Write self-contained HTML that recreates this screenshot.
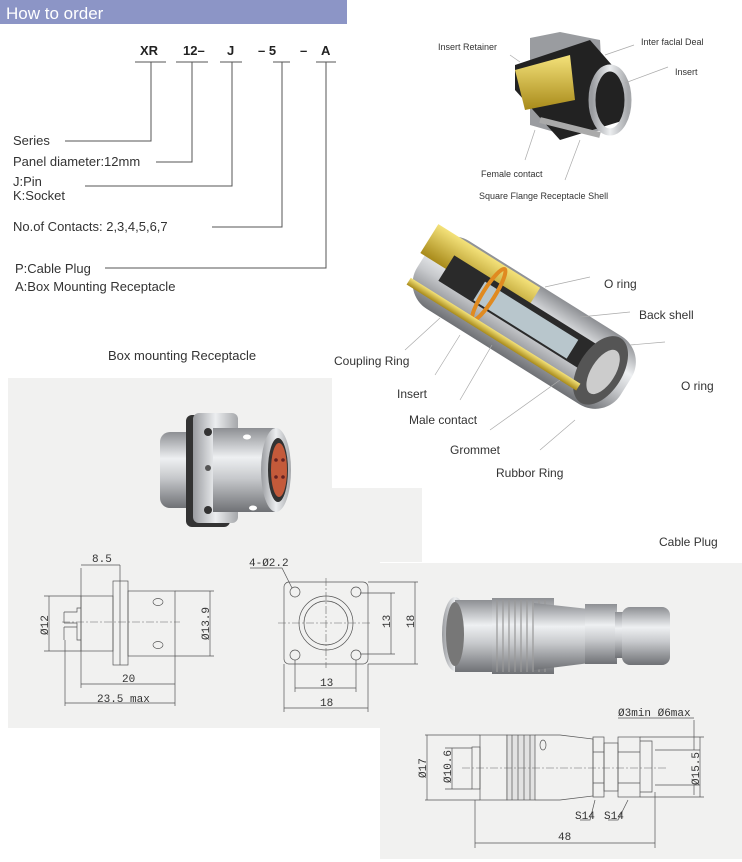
<!DOCTYPE html>
<html><head><meta charset="utf-8"><style>
body{margin:0;background:#fff;width:742px;height:862px;overflow:hidden}
svg{display:block}
text{font-family:"Liberation Sans",sans-serif;fill:#333}
.m{font-family:"Liberation Mono",monospace;font-size:11px;fill:#333}
.d{stroke:#555;stroke-width:.7;fill:none}
.c{stroke:#666;stroke-width:.6;stroke-dasharray:8 2 2 2;fill:none}
.l{stroke:#555;stroke-width:1;fill:none}
.g{stroke:#aaa;stroke-width:.7;fill:none}
</style></head><body>
<svg width="742" height="862" viewBox="0 0 742 862" xmlns="http://www.w3.org/2000/svg">
<defs>
<linearGradient id="met" x1="0" y1="0" x2="0" y2="1"><stop offset="0" stop-color="#8d8f93"/><stop offset=".35" stop-color="#eef0f2"/><stop offset=".6" stop-color="#c7c9cc"/><stop offset="1" stop-color="#6f7175"/></linearGradient>
<linearGradient id="met2" x1="0" y1="0" x2="1" y2="0"><stop offset="0" stop-color="#9a9ca0"/><stop offset=".5" stop-color="#eceef0"/><stop offset="1" stop-color="#a5a7aa"/></linearGradient>
<linearGradient id="gold" x1="0" y1="0" x2="0" y2="1"><stop offset="0" stop-color="#f4e27a"/><stop offset="1" stop-color="#a88a1a"/></linearGradient>
</defs>
<path d="M8 378H332V488H422V562H380V728H8Z" fill="#f1f1f0"/>
<rect x="380" y="563" width="362" height="296" fill="#f1f1f0"/>
<rect x="0" y="0" width="347" height="24" fill="#8c95c6"/>
<text x="6" y="19" font-size="17" style="fill:#fff">How to order</text>
<g font-size="13" font-weight="bold"><text x="140" y="55" style="fill:#222">XR</text><text x="183" y="55" style="fill:#222">12–</text><text x="227" y="55" style="fill:#222">J</text><text x="258" y="55" style="fill:#222">–  5</text><text x="300" y="55" style="fill:#222">–</text><text x="321" y="55" style="fill:#222">A</text></g>
<g class="l"><path d="M135 62H166M176 62H208M220 62H242M273 62H290M316 62H336"/>
<path d="M151 62V141H65M192 62V162H156M232 62V186H85M282 62V227H212M326 62V268H105"/></g>
<g font-size="13"><text x="13" y="145">Series</text><text x="13" y="166">Panel diameter:12mm</text><text x="13" y="186">J:Pin</text><text x="13" y="200">K:Socket</text><text x="13" y="231">No.of Contacts: 2,3,4,5,6,7</text><text x="15" y="273">P:Cable Plug</text><text x="15" y="291">A:Box Mounting Receptacle</text>
<text x="108" y="360">Box mounting Receptacle</text></g>
<g>
<path d="M530 38L560 32L600 40L605 130L565 135L530 125Z" fill="#9a9ca0"/>
<path d="M515 65L590 40L625 80L625 120L560 140L515 90Z" fill="#222"/>
<path d="M515 70L570 55L575 100L525 110Z" fill="url(#gold)"/>
<ellipse cx="610" cy="100" rx="18" ry="32" fill="none" stroke="url(#met2)" stroke-width="7"/>
<path d="M540 120L600 135" stroke="#aaa" stroke-width="6"/>
</g>
<g font-size="9"><text x="438" y="50">Insert Retainer</text><text x="641" y="45">Inter faclal Deal</text><text x="675" y="75">Insert</text><text x="481" y="177">Female contact</text><text x="479" y="199">Square Flange Receptacle Shell</text></g>
<g class="g"><path d="M510 55L520 62M634 45L605 55M668 67L625 83M535 130L525 160M580 140L565 180"/></g>
<g transform="rotate(32 520 320)">
<rect x="405" y="280" width="240" height="80" rx="30" fill="url(#met)"/>
<rect x="400" y="282" width="120" height="34" fill="url(#gold)"/>
<rect x="430" y="300" width="170" height="30" fill="#2a2a2a"/>
<rect x="470" y="306" width="110" height="22" fill="#b8c6cc"/>
<ellipse cx="615" cy="320" rx="22" ry="38" fill="#555"/>
<ellipse cx="618" cy="320" rx="12" ry="25" fill="#ccc"/>
<ellipse cx="480" cy="315" rx="6" ry="30" fill="none" stroke="#e08a20" stroke-width="4"/>
<rect x="405" y="342" width="200" height="8" fill="url(#gold)"/>
</g>
<g font-size="12"><text x="604" y="288">O ring</text><text x="639" y="319">Back shell</text><text x="334" y="365">Coupling Ring</text><text x="397" y="398">Insert</text><text x="409" y="424">Male contact</text><text x="450" y="454">Grommet</text><text x="496" y="477">Rubbor Ring</text><text x="681" y="390">O ring</text><text x="659" y="546">Cable Plug</text></g>
<g class="g"><path d="M590 277L545 287M630 312L580 317M665 342L630 345M440 318L405 350M460 335L435 375M492 345L460 400M560 380L490 430M575 420L540 450"/></g>
<!-- receptacle photo -->
<g>
<rect x="160" y="432" width="40" height="76" rx="10" fill="url(#met)"/>
<rect x="186" y="415" width="44" height="112" rx="6" fill="#333"/>
<rect x="193" y="413" width="45" height="110" rx="6" fill="url(#met2)"/>
<circle cx="208" cy="432" r="4" fill="#333"/><circle cx="208" cy="468" r="3" fill="#555"/><circle cx="208" cy="510" r="4" fill="#333"/>
<rect x="213" y="428" width="62" height="84" fill="url(#met)"/>
<ellipse cx="276" cy="470" rx="15" ry="42" fill="url(#met2)"/>
<ellipse cx="278" cy="470" rx="10" ry="32" fill="#333"/>
<ellipse cx="279" cy="470" rx="8" ry="27" fill="#c45a3a"/>
<circle cx="276" cy="460" r="1.8" fill="#622"/><circle cx="283" cy="460" r="1.8" fill="#622"/><circle cx="276" cy="477" r="1.8" fill="#622"/><circle cx="283" cy="477" r="1.8" fill="#622"/>
<ellipse cx="247" cy="437" rx="4" ry="2.5" fill="#fff"/><ellipse cx="253" cy="508" rx="4" ry="2.5" fill="#fff"/>
</g>
<g class="d">
<rect x="81" y="596" width="32" height="55"/>
<path d="M64 612H77V608H81M64 623H77V627M64 627H77V640H81M64 612V623M64 627V640"/>
<rect x="113" y="581" width="15" height="84"/><path d="M120 581V665"/>
<rect x="128" y="591" width="47" height="65"/>
<ellipse cx="158" cy="602" rx="5" ry="3.5"/><ellipse cx="158" cy="645" rx="5" ry="3.5"/>
<path d="M81 568V688M120 565V581M65 640V706M175 656V706M81 684H175M65 703H175M81 565H120M44 596H81M44 651H81M49 596V651M175 591H214M175 656H214M210 591V656"/>
</g>
<path class="c" d="M62 622H180"/>
<text class="m" x="92" y="562">8.5</text><text class="m" x="122" y="682">20</text><text class="m" x="97" y="702">23.5 max</text>
<text class="m" transform="translate(48 635) rotate(-90)">Ø12</text><text class="m" transform="translate(209 640) rotate(-90)">Ø13.9</text>
<g class="d">
<rect x="284" y="582" width="84" height="82" rx="5"/>
<circle cx="326" cy="623" r="27"/><circle cx="326" cy="623" r="22"/>
<circle cx="295" cy="592" r="5"/><circle cx="356" cy="592" r="5"/><circle cx="295" cy="655" r="5"/><circle cx="356" cy="655" r="5"/>
<path d="M360 593H395M360 654H395M391 593V654M368 582H418M368 664H418M415 582V664M295 660V692M356 660V692M295 688H356M284 664V712M368 664V712M284 708H368M250 568H282L292 588"/>
</g>
<path class="c" d="M278 623H370M326 578V668"/>
<text class="m" x="249" y="566">4-Ø2.2</text><text class="m" x="320" y="686">13</text><text class="m" x="320" y="706">18</text>
<text class="m" transform="translate(390 628) rotate(-90)">13</text><text class="m" transform="translate(414 628) rotate(-90)">18</text>
<g>
<ellipse cx="455" cy="634" rx="13" ry="37" fill="url(#met2)"/>
<rect x="455" y="600" width="50" height="72" fill="url(#met)"/>
<ellipse cx="455" cy="634" rx="9" ry="32" fill="#777"/>
<rect x="492" y="598" width="62" height="76" fill="url(#met)"/>
<g stroke="#999" stroke-width="1.2"><path d="M497 600V672M503 600V672M509 600V672M515 600V672M521 600V672M527 600V672M533 600V672M539 600V672M545 600V672"/></g>
<path d="M534 603L598 610V662L534 670Z" fill="url(#met)"/>
<rect x="585" y="604" width="32" height="60" fill="url(#met)"/>
<rect x="615" y="612" width="16" height="46" fill="url(#met)"/>
<rect x="622" y="607" width="48" height="58" rx="8" fill="url(#met)"/>
</g>
<g class="d">
<rect x="472" y="747" width="8" height="42"/>
<rect x="480" y="735" width="27" height="65"/>
<rect x="507" y="735" width="28" height="65" fill="#e2e2e2"/>
<path d="M512 735V800M518 735V800M524 735V800M530 735V800"/>
<ellipse cx="543" cy="745" rx="3" ry="5"/>
<path d="M535 735H560L593 739V796L560 800H535"/>
<rect x="593" y="737" width="11" height="60"/><path d="M593 752H604M593 783H604"/>
<rect x="604" y="743" width="14" height="48"/>
<rect x="618" y="737" width="22" height="60"/><path d="M618 752H640M618 783H640"/>
<path d="M640 741H652V792H640"/>
<path d="M425 735H480M425 800H480M427 735V800M445 748H472M445 789H472M452 748V789M640 737H704M640 797H704M700 737V797M655 750H700M655 785H700M694 720V750M694 785V795M618 718H694M655 792V848M475 800V848M475 843H655M595 800L590 820H580M628 800L618 820H608"/>
</g>
<path class="c" d="M462 768H668"/>
<text class="m" x="618" y="716">Ø3min Ø6max</text><text class="m" x="558" y="840">48</text><text class="m" x="575" y="819">S14</text><text class="m" x="604" y="819">S14</text>
<text class="m" transform="translate(426 778) rotate(-90)">Ø17</text><text class="m" transform="translate(451 783) rotate(-90)">Ø10.6</text><text class="m" transform="translate(699 785) rotate(-90)">Ø15.5</text>
</svg>
</body></html>
